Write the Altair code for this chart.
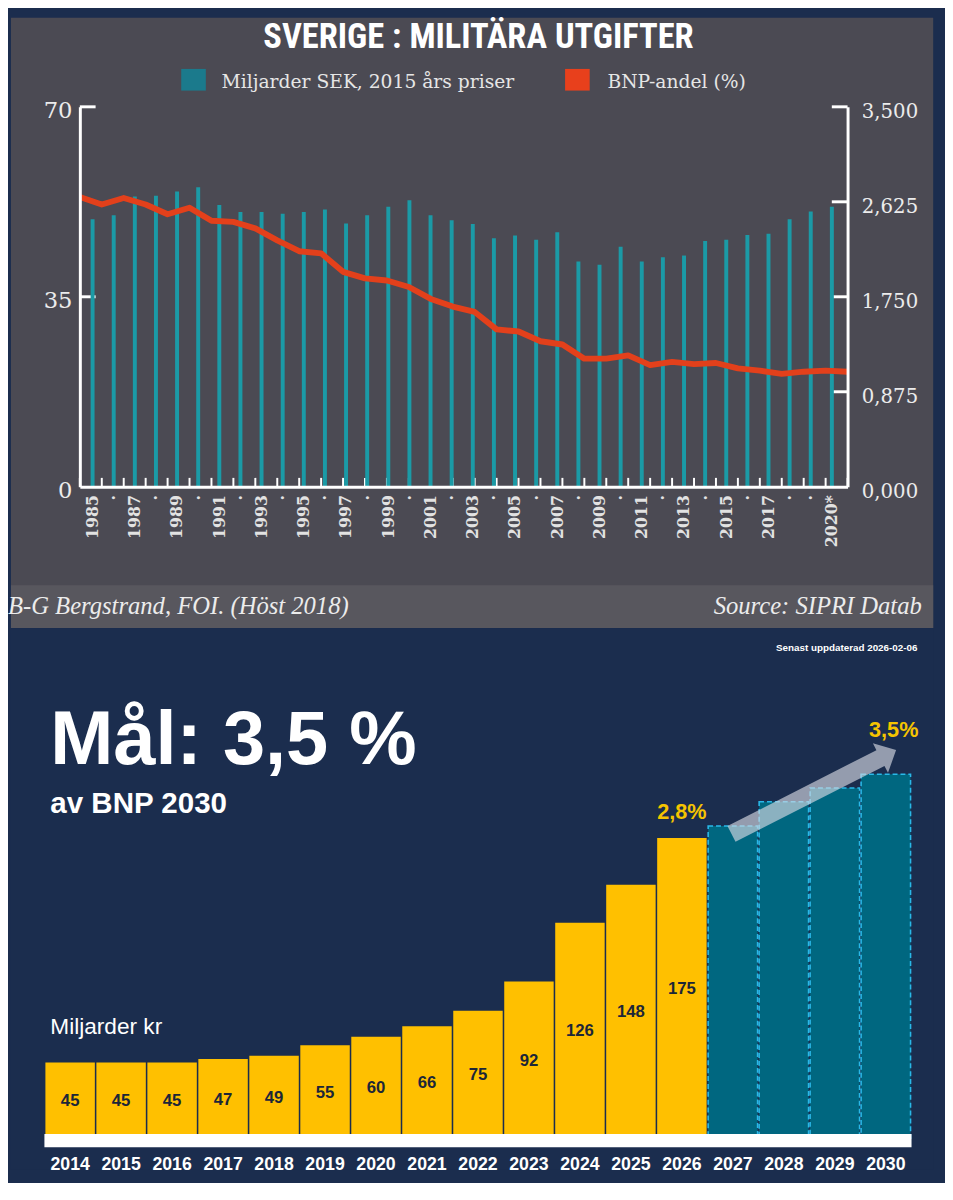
import altair as alt
import pandas as pd

# ---------------- data: top chart (SIPRI) ----------------
years = list(range(1985, 2021))
spend = [49.3, 50.0, 53.5, 53.6, 54.4, 55.2, 51.9, 50.6, 50.6, 50.3, 50.6, 51.1,
         48.5, 50.0, 51.6, 52.8, 50.0, 49.1, 48.4, 45.8, 46.3, 45.5, 46.9, 41.5,
         40.9, 44.2, 41.5, 42.3, 42.6, 45.3, 45.5, 46.4, 46.6, 49.3, 50.7, 51.6]
share = [2.67, 2.60, 2.66, 2.60, 2.51, 2.57, 2.45, 2.44, 2.38, 2.27, 2.17, 2.15,
         1.98, 1.92, 1.90, 1.84, 1.73, 1.66, 1.61, 1.45, 1.43, 1.34, 1.31, 1.18,
         1.18, 1.21, 1.12, 1.15, 1.13, 1.14, 1.09, 1.07, 1.04, 1.06, 1.07, 1.06]
left_ticks = [35, 70]
right_ticks = [0.875, 1.75, 2.625, 3.5]

# ---------------- data: bottom chart ----------------
b_years = [str(y) for y in range(2014, 2031)]
b_vals = [45, 45, 45, 47, 49, 55, 60, 66, 75, 92, 126, 148, 175, 182, 196, 204, 212]
b_text = ["45", "45", "45", "47", "49", "55", "60", "66", "75", "92", "126", "148", "175",
          "", "", "", ""]
b_kind = ["actual"] * 13 + ["goal"] * 4
arrow_year = ["2028"]
arrow_val = [201.7]

SANS = "Liberation Sans"
SERIF = "DejaVu Serif"
NARROW = "Roboto Condensed, DejaVu Sans Condensed, Liberation Sans Narrow, Roboto"
NAVY = "#1b2d4e"
GRAY = "#4b4a53"
RIGHT = 867   # right edge of the panels, relative to the plot origin

top_df = pd.DataFrame({"year": years, "spend": spend, "share": share})
one = pd.DataFrame({"k": [0]})

W1, H1 = 780, 386

bar_scale = alt.Scale(domain=[1984.63, 2020.51], nice=False, zero=False)
line_scale = alt.Scale(domain=[1985, 2020], nice=False, zero=False)

bg1 = alt.Chart(one).mark_rect(color=GRAY).encode(
    x=alt.value(-70), x2=alt.value(RIGHT), y=alt.value(-90.5), y2=alt.value(529.5))
foot1 = alt.Chart(one).mark_rect(color="#58575e").encode(
    x=alt.value(-70), x2=alt.value(RIGHT), y=alt.value(486), y2=alt.value(529.5))

lt = alt.Chart(pd.DataFrame({"v": left_ticks})).mark_rule(color="white", strokeWidth=3).encode(
    y=alt.Y("v:Q", scale=alt.Scale(domain=[0, 70], nice=False), axis=None),
    x=alt.value(0), x2=alt.value(16))
rt = alt.Chart(pd.DataFrame({"v": right_ticks})).mark_rule(color="white", strokeWidth=3).encode(
    y=alt.Y("v:Q", scale=alt.Scale(domain=[0, 3.5], nice=False), axis=None),
    x=alt.value(W1 - 16), x2=alt.value(W1))
xt = alt.Chart(top_df).mark_rule(color="white", strokeWidth=2).encode(
    x=alt.X("year:Q", scale=line_scale, axis=None),
    y=alt.value(H1 - 9), y2=alt.value(H1))

bars1 = alt.Chart(top_df).mark_bar(size=4, color="#1b9aa6").encode(
    x=alt.X("year:Q", scale=bar_scale, title=None,
            axis=alt.Axis(values=years, format="d",
                          labelExpr="datum.value == 2020 ? '2020*' : ((datum.value % 2 == 1 && datum.value < 2018) ? datum.label : '·')",
                          labelAngle=270, labelAlign="right", labelBaseline="middle",
                          labelFont=SERIF, labelFontSize=16, labelFontWeight="bold",
                          labelColor="#e2e2e2", labelPadding=8, labelFlush=False,
                          labelOverlap=False, labelBound=False,
                          ticks=False, tickSize=0, grid=False,
                          domain=True, domainColor="white", domainWidth=3, zindex=1)),
    y=alt.Y("spend:Q", scale=alt.Scale(domain=[0, 70], nice=False), title=None,
            axis=alt.Axis(values=[0, 35, 70], labelFont=SERIF, labelFontSize=23,
                          labelColor="#ececec", labelPadding=8, labelOffset=4,
                          ticks=False, tickSize=0, grid=False,
                          domain=True, domainColor="white", domainWidth=3, zindex=1)))

line1 = alt.Chart(top_df).mark_line(color="#e3401b", strokeWidth=6, strokeJoin="round").encode(
    x=alt.X("year:Q", scale=line_scale, axis=None),
    y=alt.Y("share:Q", scale=alt.Scale(domain=[0, 3.5], nice=False), title=None,
            axis=alt.Axis(orient="right", values=[0, 0.875, 1.75, 2.625, 3.5], format=".3f",
                          labelExpr="replace(datum.label, '.', ',')",
                          labelFont=SERIF, labelFontSize=20, labelColor="#ececec",
                          labelPadding=14, labelOffset=5, ticks=False, tickSize=0,
                          grid=False, domain=True, domainColor="white", domainWidth=3,
                          zindex=1)))

title1 = alt.Chart(one).mark_text(text="SVERIGE : MILITÄRA UTGIFTER", font=NARROW,
                                  fontSize=35, fontWeight="bold", color="white",
                                  align="center", baseline="middle").encode(
    x=alt.value(405), y=alt.value(-71))

leg_sq1 = alt.Chart(one).mark_rect(color="#1b7a8c").encode(
    x=alt.value(103), x2=alt.value(128), y=alt.value(-38.5), y2=alt.value(-16.5))
leg_sq2 = alt.Chart(one).mark_rect(color="#e8401c").encode(
    x=alt.value(493), x2=alt.value(518), y=alt.value(-38.5), y2=alt.value(-16.5))
leg_t1 = alt.Chart(one).mark_text(text="Miljarder SEK, 2015 års priser", font=SERIF,
                                  fontSize=19, color="#e6e6e6", align="left",
                                  baseline="middle").encode(x=alt.value(144), y=alt.value(-25))
leg_t2 = alt.Chart(one).mark_text(text="BNP-andel (%)", font=SERIF, fontSize=19,
                                  color="#e6e6e6", align="left",
                                  baseline="middle").encode(x=alt.value(536), y=alt.value(-25))

foot_t1 = alt.Chart(one).mark_text(text="B-G Bergstrand, FOI. (Höst 2018)", font="Liberation Serif",
                                   fontSize=25, fontStyle="italic", color="#ececec",
                                   align="left", baseline="middle").encode(
    x=alt.value(-73), y=alt.value(507))
foot_t2 = alt.Chart(one).mark_text(text="Source: SIPRI Database", font="Liberation Serif",
                                   fontSize=25, fontStyle="italic", color="#ececec",
                                   align="left", baseline="middle", limit=RIGHT - 646,
                                   ellipsis="\u200b").encode(
    x=alt.value(644), y=alt.value(507))

top = alt.layer(bg1, foot1, lt, rt, xt, bars1, line1, title1,
                leg_sq1, leg_sq2, leg_t1, leg_t2, foot_t1, foot_t2).resolve_scale(
    x="independent", y="independent").resolve_axis(x="independent", y="independent").properties(
    width=W1, height=H1)

# ---------------- bottom chart ----------------
# its plot origin lines up with the top chart's; bars start 35 px further left
bot_df = pd.DataFrame({"year": b_years, "val": b_vals, "txt": b_text, "kind": b_kind})
W2, H2 = 844, 500
ysc = alt.Scale(domain=[0, 285], nice=False)
xsc = alt.Scale(paddingInner=0.03, paddingOuter=0, range=[-35, 844])

bg2 = alt.Chart(one).mark_rect(color=NAVY).encode(
    x=alt.value(-70), x2=alt.value(RIGHT), y=alt.value(-20), y2=alt.value(530))

bars2 = alt.Chart(bot_df).mark_bar(strokeWidth=1.6).encode(
    x=alt.X("year:O", scale=xsc, title=None,
            axis=alt.Axis(labelAngle=0, labelFont=SANS, labelFontSize=18, labelFontWeight="bold",
                          labelColor="white", labelPadding=25, labelBaseline="middle",
                          ticks=False, tickSize=0, domain=False, grid=False, zindex=1)),
    y=alt.Y("val:Q", scale=ysc, axis=None),
    color=alt.Color("kind:N", scale=alt.Scale(domain=["actual", "goal"],
                                              range=["#ffc000", "#006780"]), legend=None),
    stroke=alt.Stroke("kind:N", scale=alt.Scale(domain=["actual", "goal"],
                                                range=["rgba(0,0,0,0)", "#2ab8e8"]), legend=None),
    strokeDash=alt.StrokeDash("kind:N", scale=alt.Scale(domain=["actual", "goal"],
                                                        range=[[1, 0], [5, 3]]), legend=None))

band = alt.Chart(one).mark_rect(color="white").encode(
    x=alt.value(-36), x2=alt.value(845), y=alt.value(493.7), y2=alt.value(507))

vlab = alt.Chart(bot_df).transform_calculate(half="datum.val / 2").mark_text(
    font=SANS, fontSize=17, fontWeight="bold", color="#1c2638", baseline="middle").encode(
    x=alt.X("year:O", scale=xsc), y=alt.Y("half:Q", scale=ysc, axis=None), text="txt:N")

pct1 = alt.Chart(bot_df).transform_filter("datum.year == '2026'").mark_text(
    text="2,8%", font=SANS, fontSize=22, fontWeight="bold", color="#f5c400",
    baseline="middle", dy=-26).encode(x=alt.X("year:O", scale=xsc), y=alt.Y("val:Q", scale=ysc))
pct2 = alt.Chart(bot_df).transform_filter("datum.year == '2030'").mark_text(
    text="3,5%", font=SANS, fontSize=22, fontWeight="bold", color="#f5c400",
    baseline="middle", dy=-45, dx=8).encode(x=alt.X("year:O", scale=xsc), y=alt.Y("val:Q", scale=ysc))

ARROW = "M-1,-0.096L0.81,-0.096L0.81,-0.18L1,0L0.81,0.18L0.81,0.096L-1,0.096Z"
arrow = alt.Chart(pd.DataFrame({"year": arrow_year, "val": arrow_val})).mark_point(
    shape=ARROW, filled=True, size=35231, angle=333, color="#d5d8e2", opacity=0.65,
    strokeWidth=0, xOffset=30.4).encode(x=alt.X("year:O", scale=xsc), y=alt.Y("val:Q", scale=ysc))

big = alt.Chart(one).mark_text(text="Mål: 3,5 %", font=SANS, fontSize=77, fontWeight="bold",
                               color="white", align="left", baseline="alphabetic").encode(
    x=alt.value(-30), y=alt.value(118))
sub = alt.Chart(one).mark_text(text="av BNP 2030", font=SANS, fontSize=30, fontWeight="bold",
                               color="white", align="left", baseline="alphabetic").encode(
    x=alt.value(-30), y=alt.value(167))
unit = alt.Chart(one).mark_text(text="Miljarder kr", font=SANS, fontSize=23,
                                color="white", align="left", baseline="alphabetic").encode(
    x=alt.value(-30), y=alt.value(392))
upd = alt.Chart(one).mark_text(text="Senast uppdaterad 2026-02-06", font=SANS, fontSize=10,
                               fontWeight="bold", color="white", align="right",
                               baseline="middle").encode(x=alt.value(851), y=alt.value(0))

bottom = alt.layer(bg2, bars2, band, vlab, pct1, pct2, arrow, big, sub, unit, upd).properties(
    width=W2, height=H2)

chart = alt.vconcat(top, bottom, spacing=0).properties(padding=0).configure(
    background=NAVY).configure_view(stroke=None).configure_concat(spacing=0)

chart.save("out.html", embed_options={"renderer": "svg", "actions": False})
